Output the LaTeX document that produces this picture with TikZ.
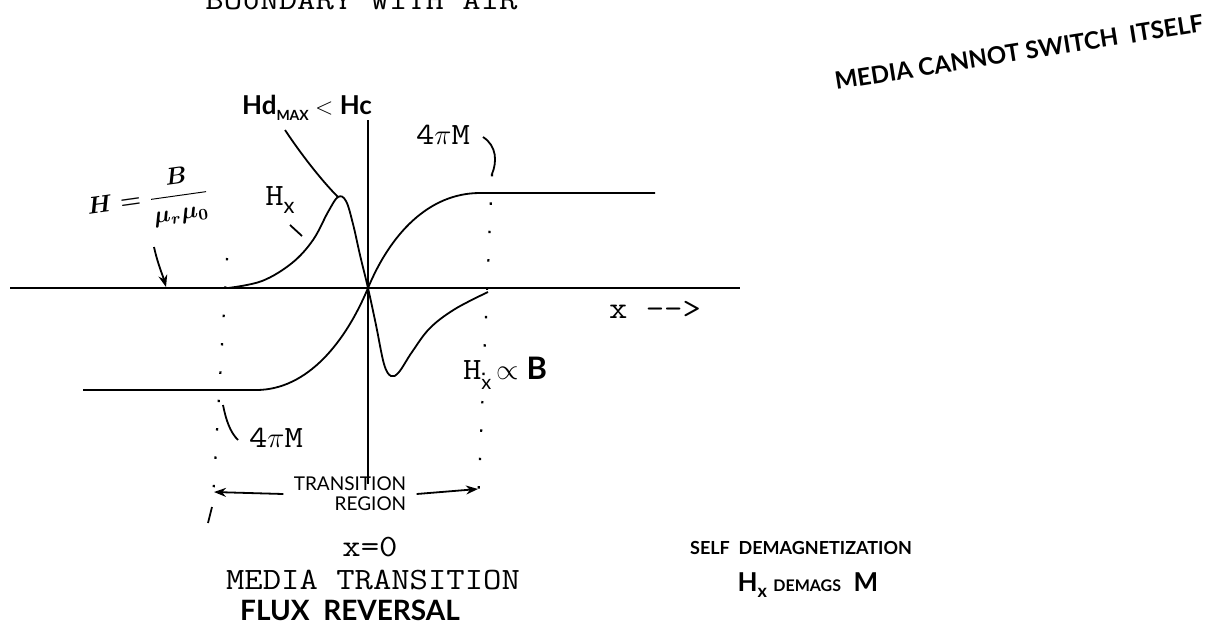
\documentclass[tikz,border=0pt]{standalone}
\usepackage{fontspec}
\usepackage{amsmath}
\newfontfamily\typefont{Latin Modern Mono}[FakeStretch=1.15, Ligatures=NoCommon]
\newfontfamily\handfont{Lato}
\usetikzlibrary{arrows.meta, calc}

\begin{document}
\begin{tikzpicture}[
    x=0.5pt, y=-0.5pt,
    axis/.style={line width=1.2pt},
    curve/.style={line width=0.9pt},
    guide/.style={line width=1.1pt, dash pattern=on 1.2pt off 13pt},
    leader/.style={line width=0.9pt},
    typed/.style={font=\typefont\fontsize{15.5}{19}\selectfont, inner sep=1pt},
    hand/.style={font=\handfont\bfseries\fontsize{12}{14}\selectfont, inner sep=1pt},
    arrow/.style={-{Stealth[length=6pt, width=4.5pt]}, line width=0.9pt}
]
\useasboundingbox (0,0) rectangle (1213,639);

% axes
\coordinate (axL) at (10,288);
\coordinate (axR) at (740,288);
\coordinate (orig) at (368,288);
\coordinate (vtop) at (368,120);
\coordinate (vbot) at (368,484);
\draw[axis] (axL) -- (axR);
\draw[axis] (vtop) -- (vbot);

% magnetization 4piM
\coordinate (mtop) at (480,193);
\coordinate (mtopR) at (655,193);
\coordinate (mbot) at (256,390);
\coordinate (mbotL) at (83,390);
\draw[curve] (orig) .. controls (390,235) and (428,193) .. (mtop) -- (mtopR);
\draw[curve] (orig) .. controls (346,341) and (308,390) .. (mbot);
\draw[axis] (mbot) -- (mbotL);

% field Hx
\coordinate (peak) at (338,197);
\draw[curve] plot[smooth, tension=0.6] coordinates {(228,288) (262,281) (292,263) (313,240) (328,212) (338,197) (346,201) (353,224) (360,255) (368,288) (376,325) (384,364) (391,376) (399,372) (412,352) (430,328) (455,309) (488,292)};

% edges of the transition region
\coordinate (gLt) at (227,258);
\coordinate (gLb) at (213,500);
\coordinate (gRt) at (492,174);
\coordinate (gRb) at (478,505);
\draw[guide] (gLt) -- (gLb);
\draw[guide] (gRt) -- (gRb);
\coordinate (tickA) at (212,507);
\coordinate (tickB) at (208,523);
\draw[leader] (tickA) -- (tickB);

\node[hand, font=\handfont\fontsize{9.5}{10}\selectfont, align=right, inner sep=5pt] (treg) at (350,494) {TRANSITION\\REGION};
\coordinate (trL) at (214,492);
\coordinate (trR) at (478,489);
\draw[arrow] (treg.west) -- (trL);
\draw[arrow] (treg.east) -- (trR);

% labels on the curves
\node[typed] (m4top) at (443,135) {4$\pi$M};
\coordinate (m4topA) at (483,137);
\draw[leader] (m4topA) .. controls (497,146) and (497,162) .. (gRt);

\node[typed] (m4bot) at (276,438) {4$\pi$M};
\coordinate (m4botA) at (223,405);
\coordinate (m4botB) at (238,440);
\draw[leader] (m4botA) .. controls (226,420) and (230,432) .. (m4botB);

\node[typed] (hxlab) at (280,200) {H\raisebox{-4pt}{\handfont\fontsize{11}{11}\selectfont x}};
\coordinate (hxA) at (290,225);
\coordinate (hxB) at (302,236);
\draw[leader] (hxA) -- (hxB);

\node[hand, font=\handfont\bfseries\fontsize{13}{15}\selectfont] (hdmax) at (307,108) {Hd\raisebox{-3pt}{\fontsize{7}{7}\selectfont MAX} $<$ Hc};
\coordinate (hdA) at (285,130);
\draw[leader] (hdA) .. controls (305,160) and (325,184) .. (peak);

\node[hand, rotate=8] (hform) at (148,200) {$\boldsymbol{H=\dfrac{B}{\mu_r\mu_0}}$};
\coordinate (hfA) at (154,247);
\coordinate (hfB) at (166,287);
\draw[arrow] (hfA) .. controls (158,265) and (163,276) .. (hfB);

\node[typed] (xlab) at (655,310) {x -{}->};
\node[typed] (hxb) at (505,373) {H\raisebox{-5pt}{\handfont\fontsize{10}{10}\selectfont x}\,{\handfont\bfseries $\propto$ B}};

% captions
\node[typed, anchor=base west] (bound) at (203,9) {BOUNDARY WITH AIR};
\node[typed] (xzero) at (370,547) {x=0};
\node[typed] (mtrans) at (373,580) {MEDIA TRANSITION};
\node[hand, font=\handfont\bfseries\fontsize{14}{16}\selectfont] (flux) at (350,610) {FLUX\ \ REVERSAL};
\node[hand, rotate=9] (cannot) at (1019,52) {MEDIA CANNOT SWITCH\ \ ITSELF};
\node[hand, font=\handfont\bfseries\fontsize{9}{11}\selectfont] (selfd) at (801,548) {SELF\ \ DEMAGNETIZATION};
\node[hand, font=\handfont\bfseries\fontsize{13}{15}\selectfont] (hxdem) at (808,585) {H\raisebox{-3pt}{\fontsize{9}{9}\selectfont x}\ {\fontsize{8}{9}\selectfont DEMAGS}\ \ M};

\end{tikzpicture}
\end{document}
